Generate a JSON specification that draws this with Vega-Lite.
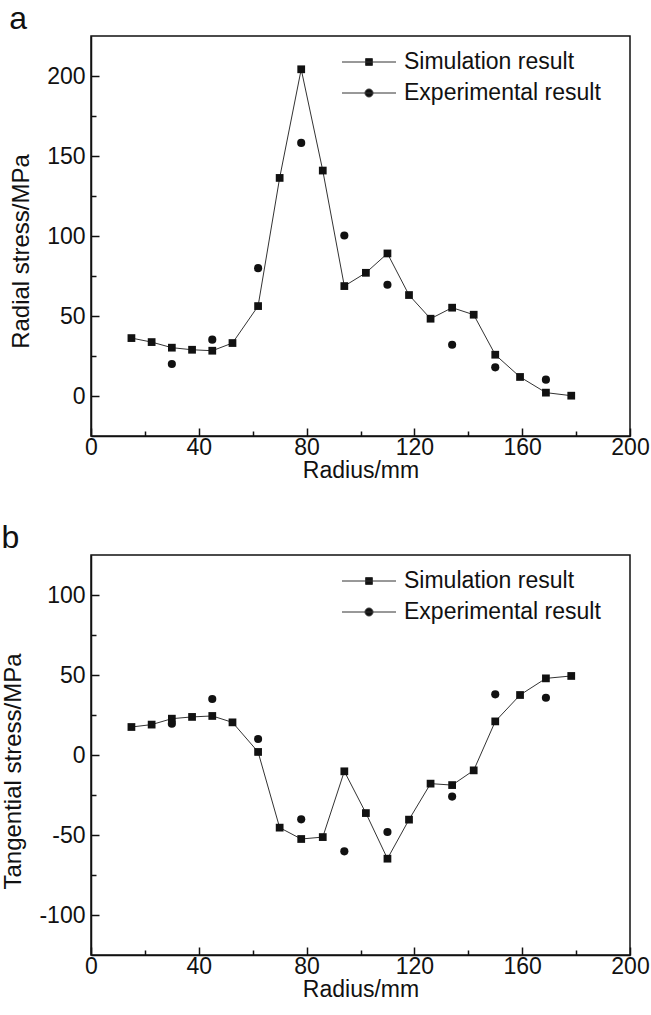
{
  "$schema": "https://vega.github.io/schema/vega-lite/v6.json",
  "padding": {"left": 0, "top": 2, "right": 0, "bottom": 2},
  "background": "white",
  "config": {
    "font": "Liberation Sans",
    "view": {"stroke": "#111", "strokeWidth": 1.5},
    "axis": {"labelFont": "Liberation Sans", "titleFont": "Liberation Sans", "labelColor": "#111", "titleColor": "#111", "domainColor": "#111", "tickColor": "#111", "domainWidth": 1.5, "tickWidth": 1.5, "grid": false, "labelFontSize": 23, "titleFontSize": 23, "titleFontWeight": "normal"},
    "title": {"font": "Liberation Sans", "fontSize": 32, "fontWeight": "normal", "color": "#111", "anchor": "start", "frame": "bounds"},
    "legend": {"orient": "none", "legendX": 266.5, "legendY": 14.5, "title": null, "symbolSize": 64, "labelFontSize": 23, "labelColor": "#111", "labelFont": "Liberation Sans", "labelOffset": 23.5, "labelLimit": 500, "rowPadding": 7, "padding": 0, "symbolStrokeWidth": 1, "symbolStrokeColor": "#333", "symbolFillColor": "#111", "symbolOpacity": 1}
  },
  "datasets": {
    "radial": [
      {"series": "Simulation result", "radius": 15, "stress": 36.2},
      {"series": "Simulation result", "radius": 22.5, "stress": 33.7},
      {"series": "Simulation result", "radius": 30, "stress": 30.2},
      {"series": "Simulation result", "radius": 37.5, "stress": 28.9},
      {"series": "Simulation result", "radius": 45, "stress": 28.3},
      {"series": "Simulation result", "radius": 52.5, "stress": 33.1},
      {"series": "Simulation result", "radius": 62, "stress": 56.2},
      {"series": "Simulation result", "radius": 70, "stress": 136.3},
      {"series": "Simulation result", "radius": 78, "stress": 204.2},
      {"series": "Simulation result", "radius": 86, "stress": 140.9},
      {"series": "Simulation result", "radius": 94, "stress": 68.7},
      {"series": "Simulation result", "radius": 102, "stress": 77.0},
      {"series": "Simulation result", "radius": 110, "stress": 89.1},
      {"series": "Simulation result", "radius": 118, "stress": 63.1},
      {"series": "Simulation result", "radius": 126, "stress": 48.3},
      {"series": "Simulation result", "radius": 134, "stress": 55.2},
      {"series": "Simulation result", "radius": 142, "stress": 50.8},
      {"series": "Simulation result", "radius": 150, "stress": 25.8},
      {"series": "Simulation result", "radius": 159.2, "stress": 11.9},
      {"series": "Simulation result", "radius": 168.8, "stress": 2.1},
      {"series": "Simulation result", "radius": 178.2, "stress": 0.2},
      {"series": "Experimental result", "radius": 30, "stress": 20.0},
      {"series": "Experimental result", "radius": 45, "stress": 35.2},
      {"series": "Experimental result", "radius": 62, "stress": 79.9},
      {"series": "Experimental result", "radius": 78, "stress": 158.2},
      {"series": "Experimental result", "radius": 94, "stress": 100.3},
      {"series": "Experimental result", "radius": 110, "stress": 69.5},
      {"series": "Experimental result", "radius": 134, "stress": 32.0},
      {"series": "Experimental result", "radius": 150, "stress": 17.9},
      {"series": "Experimental result", "radius": 168.8, "stress": 10.2}
    ],
    "tangential": [
      {"series": "Simulation result", "radius": 15, "stress": 17.5},
      {"series": "Simulation result", "radius": 22.5, "stress": 19.0},
      {"series": "Simulation result", "radius": 30, "stress": 22.7},
      {"series": "Simulation result", "radius": 37.5, "stress": 23.8},
      {"series": "Simulation result", "radius": 45, "stress": 24.4},
      {"series": "Simulation result", "radius": 52.5, "stress": 20.4},
      {"series": "Simulation result", "radius": 62, "stress": 1.9},
      {"series": "Simulation result", "radius": 70, "stress": -45.4},
      {"series": "Simulation result", "radius": 78, "stress": -52.5},
      {"series": "Simulation result", "radius": 86, "stress": -51.3},
      {"series": "Simulation result", "radius": 94, "stress": -10.2},
      {"series": "Simulation result", "radius": 102, "stress": -36.3},
      {"series": "Simulation result", "radius": 110, "stress": -64.8},
      {"series": "Simulation result", "radius": 118, "stress": -40.4},
      {"series": "Simulation result", "radius": 126, "stress": -17.9},
      {"series": "Simulation result", "radius": 134, "stress": -18.8},
      {"series": "Simulation result", "radius": 142, "stress": -9.6},
      {"series": "Simulation result", "radius": 150, "stress": 21.0},
      {"series": "Simulation result", "radius": 159.2, "stress": 37.5},
      {"series": "Simulation result", "radius": 168.8, "stress": 47.9},
      {"series": "Simulation result", "radius": 178.2, "stress": 49.4},
      {"series": "Experimental result", "radius": 30, "stress": 19.6},
      {"series": "Experimental result", "radius": 45, "stress": 35.0},
      {"series": "Experimental result", "radius": 62, "stress": 10.0},
      {"series": "Experimental result", "radius": 78, "stress": -40.2},
      {"series": "Experimental result", "radius": 94, "stress": -60.2},
      {"series": "Experimental result", "radius": 110, "stress": -48.1},
      {"series": "Experimental result", "radius": 134, "stress": -26.0},
      {"series": "Experimental result", "radius": 150, "stress": 37.9},
      {"series": "Experimental result", "radius": 168.8, "stress": 35.8}
    ]
  },
  "vconcat": [
    {
      "width": 539,
      "height": 400,
      "title": {"text": "a", "offset": 0},
      "data": {"name": "radial"},
      "layer": [
        {
          "transform": [{"filter": "datum.series === 'Simulation result'"}],
          "mark": {"type": "line", "color": "#333", "strokeWidth": 1},
          "encoding": {
            "x": {"field": "radius", "type": "quantitative", "scale": {"domain": [0, 200], "nice": false, "zero": false},
              "axis": {"orient": "bottom", "values": [0, 40, 80, 120, 160, 200], "tickSize": -8, "labelPadding": 8, "title": "Radius/mm", "titlePadding": 0, "labelFlush": false}},
            "y": {"field": "stress", "type": "quantitative", "scale": {"domain": [-25, 225], "nice": false, "zero": false},
              "axis": {"orient": "left", "values": [0, 50, 100, 150, 200], "tickSize": -8, "labelPadding": 14, "title": "Radial stress/MPa", "titleFontSize": 24, "titlePadding": 13.5, "titleY": 215}}
          }
        },
        {
          "transform": [{"filter": "datum.series === 'Simulation result'"}],
          "mark": {"type": "point", "shape": "square", "filled": true, "color": "#111", "size": 60, "opacity": 1},
          "encoding": {
            "x": {"field": "radius", "type": "quantitative", "scale": {"domain": [0, 200], "nice": false, "zero": false},
              "axis": {"orient": "bottom", "values": [20, 60, 100, 140, 180], "tickSize": -5, "labels": false, "domain": false, "title": null}},
            "y": {"field": "stress", "type": "quantitative", "scale": {"domain": [-25, 225], "nice": false, "zero": false},
              "axis": {"orient": "left", "values": [25, 75, 125, 175], "tickSize": -5, "labels": false, "domain": false, "title": null}}
          }
        },
        {
          "transform": [{"filter": "datum.series === 'Experimental result'"}],
          "mark": {"type": "point", "shape": "circle", "filled": true, "color": "#111", "size": 66, "opacity": 1},
          "encoding": {
            "x": {"field": "radius", "type": "quantitative", "axis": null},
            "y": {"field": "stress", "type": "quantitative", "axis": null}
          }
        },
        {
          "transform": [{"filter": "datum.radius < 0"}],
          "mark": {"type": "point", "filled": true, "color": "#111", "size": 64, "opacity": 1},
          "encoding": {
            "x": {"field": "radius", "type": "quantitative", "axis": null},
            "y": {"field": "stress", "type": "quantitative", "axis": null},
            "shape": {"field": "series", "type": "nominal",
              "scale": {"domain": ["Simulation result", "Experimental result"], "range": ["M-6.75,0H6.75M-0.85,-0.85H0.85V0.85H-0.85Z", "M-6.75,0H6.75M1,0A1,1,0,1,1,-1,0A1,1,0,1,1,1,0Z"]},
              "legend": {"encoding": {"symbols": {"stroke": {"value": "#333"}, "strokeWidth": {"value": 1}, "fill": {"value": "#111"}, "opacity": {"value": 1}}}}}
          }
        }
      ],
      "resolve": {"axis": {"x": "independent", "y": "independent"}}
    },
    {
      "width": 539,
      "height": 400,
      "title": {"text": "b", "offset": 0},
      "data": {"name": "tangential"},
      "layer": [
        {
          "transform": [{"filter": "datum.series === 'Simulation result'"}],
          "mark": {"type": "line", "color": "#333", "strokeWidth": 1},
          "encoding": {
            "x": {"field": "radius", "type": "quantitative", "scale": {"domain": [0, 200], "nice": false, "zero": false},
              "axis": {"orient": "bottom", "values": [0, 40, 80, 120, 160, 200], "tickSize": -8, "labelPadding": 8, "title": "Radius/mm", "titlePadding": 0, "labelFlush": false}},
            "y": {"field": "stress", "type": "quantitative", "scale": {"domain": [-125, 125], "nice": false, "zero": false},
              "axis": {"orient": "left", "values": [-100, -50, 0, 50, 100], "tickSize": -8, "labelPadding": 14, "title": "Tangential stress/MPa", "titleFontSize": 24, "titlePadding": 13.5, "titleY": 216,
                "labelExpr": "datum.value < 0 ? '-' + abs(datum.value) : '' + datum.value"}}
          }
        },
        {
          "transform": [{"filter": "datum.series === 'Simulation result'"}],
          "mark": {"type": "point", "shape": "square", "filled": true, "color": "#111", "size": 60, "opacity": 1},
          "encoding": {
            "x": {"field": "radius", "type": "quantitative", "scale": {"domain": [0, 200], "nice": false, "zero": false},
              "axis": {"orient": "bottom", "values": [20, 60, 100, 140, 180], "tickSize": -5, "labels": false, "domain": false, "title": null}},
            "y": {"field": "stress", "type": "quantitative", "scale": {"domain": [-125, 125], "nice": false, "zero": false},
              "axis": {"orient": "left", "values": [-75, -25, 25, 75], "tickSize": -5, "labels": false, "domain": false, "title": null}}
          }
        },
        {
          "transform": [{"filter": "datum.series === 'Experimental result'"}],
          "mark": {"type": "point", "shape": "circle", "filled": true, "color": "#111", "size": 66, "opacity": 1},
          "encoding": {
            "x": {"field": "radius", "type": "quantitative", "axis": null},
            "y": {"field": "stress", "type": "quantitative", "axis": null}
          }
        },
        {
          "transform": [{"filter": "datum.radius < 0"}],
          "mark": {"type": "point", "filled": true, "color": "#111", "size": 64, "opacity": 1},
          "encoding": {
            "x": {"field": "radius", "type": "quantitative", "axis": null},
            "y": {"field": "stress", "type": "quantitative", "axis": null},
            "shape": {"field": "series", "type": "nominal",
              "scale": {"domain": ["Simulation result", "Experimental result"], "range": ["M-6.75,0H6.75M-0.85,-0.85H0.85V0.85H-0.85Z", "M-6.75,0H6.75M1,0A1,1,0,1,1,-1,0A1,1,0,1,1,1,0Z"]},
              "legend": {"encoding": {"symbols": {"stroke": {"value": "#333"}, "strokeWidth": {"value": 1}, "fill": {"value": "#111"}, "opacity": {"value": 1}}}}}
          }
        }
      ],
      "resolve": {"axis": {"x": "independent", "y": "independent"}}
    }
  ],
  "spacing": 38,
  "resolve": {"scale": {"shape": "independent"}, "legend": {"shape": "independent"}}
}
